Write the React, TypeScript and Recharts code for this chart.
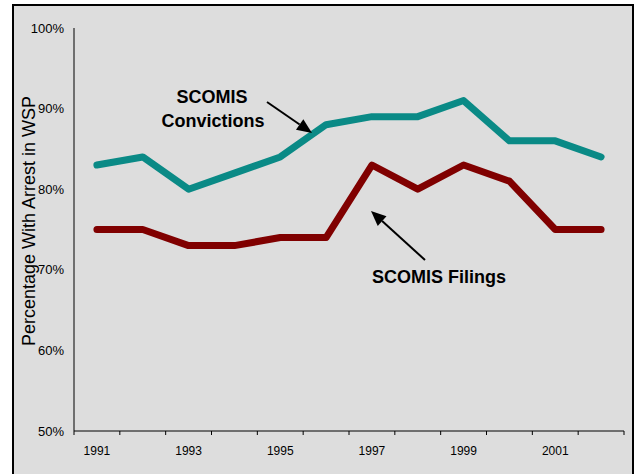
import { LineChart, Line, XAxis, YAxis } from 'recharts';

const years = [1991, 1992, 1993, 1994, 1995, 1996, 1997, 1998, 1999, 2000, 2001, 2002];
const convictions = [83, 84, 80, 82, 84, 88, 89, 89, 91, 86, 86, 84];
const filings = [75, 75, 73, 73, 74, 74, 83, 80, 83, 81, 75, 75];
const yearLabels = [1991, 1993, 1995, 1997, 1999, 2001];
const yTicks = [50, 60, 70, 80, 90, 100];

const data = years.map((year, i) => ({
  year,
  convictions: convictions[i],
  filings: filings[i]
}));

// tick marks sit between the years, labels on every other year
const boundaries = [...years.map((y) => y - 0.5), years[years.length - 1] + 0.5];
const xTicks = [...boundaries, ...yearLabels].sort((a, b) => a - b);

const font = 'Arial, "Liberation Sans", sans-serif';

const YearTick = (props: any) => {
  const { x, y, payload } = props;
  const v = payload.value;
  if (v % 1 !== 0) {
    return <line x1={x} y1={y} x2={x} y2={y + 4} stroke="#000" strokeWidth={1} />;
  }
  return (
    <text x={x} y={y + 24} textAnchor="middle" fontSize={12} fontFamily={font} fill="#000">
      {v}
    </text>
  );
};

const Arrow = ({ x1, y1, x2, y2 }: { x1: number; y1: number; x2: number; y2: number }) => {
  const a = Math.atan2(y2 - y1, x2 - x1);
  const len = 15;
  const half = 6.5;
  const bx = x2 - len * Math.cos(a);
  const by = y2 - len * Math.sin(a);
  const px = -Math.sin(a) * half;
  const py = Math.cos(a) * half;
  return (
    <g>
      <line x1={x1} y1={y1} x2={bx} y2={by} stroke="#000" strokeWidth={2} />
      <polygon points={`${x2},${y2} ${bx + px},${by + py} ${bx - px},${by - py}`} fill="#000" />
    </g>
  );
};

export default function App() {
  return (
    <div style={{ position: 'absolute', left: 0, top: 0, width: 636, height: 474, overflow: 'hidden', background: '#fff' }}>
      <div
        style={{
          position: 'absolute',
          left: 12,
          top: 4,
          width: 622,
          height: 490,
          boxSizing: 'border-box',
          border: '2px solid #000',
          background: '#DDDDDD'
        }}
      />
      <div style={{ position: 'absolute', left: 0, top: 0 }}>
        <LineChart width={636} height={474} data={data} margin={{ top: 28, right: 12, bottom: 13, left: 0 }}>
          <XAxis
            dataKey="year"
            type="number"
            domain={[1990.5, 2002.5]}
            ticks={xTicks}
            interval={0}
            tickLine={false}
            tickSize={0}
            tickMargin={0}
            height={30}
            axisLine={{ stroke: '#000', strokeWidth: 1 }}
            tick={<YearTick />}
          />
          <YAxis
            domain={[50, 100]}
            ticks={yTicks}
            interval={0}
            width={74}
            tickLine={false}
            tickSize={0}
            tickMargin={10}
            axisLine={{ stroke: '#000', strokeWidth: 1 }}
            tickFormatter={(v) => `${v}%`}
            tick={{ fill: '#000', fontSize: 13, fontFamily: font }}
          />
          <Line
            dataKey="convictions"
            stroke="#0A8A86"
            strokeWidth={7}
            strokeLinecap="round"
            strokeLinejoin="round"
            dot={false}
            activeDot={false}
            isAnimationActive={false}
          />
          <Line
            dataKey="filings"
            stroke="#800000"
            strokeWidth={7}
            strokeLinecap="round"
            strokeLinejoin="round"
            dot={false}
            activeDot={false}
            isAnimationActive={false}
          />
        </LineChart>
      </div>
      <svg width={636} height={474} style={{ position: 'absolute', left: 0, top: 0, pointerEvents: 'none' }}>
        <text
          transform="translate(35 221) rotate(-90)"
          textAnchor="middle"
          fontSize={18}
          fontFamily={font}
          fill="#000"
        >
          Percentage With Arrest in WSP
        </text>
        <g fontFamily={font} fontWeight="bold" fontSize={18} fill="#000" textAnchor="middle">
          <text x={212} y={103}>SCOMIS</text>
          <text x={213} y={127}>Convictions</text>
          <text x={439} y={283}>SCOMIS Filings</text>
        </g>
        <Arrow x1={267} y1={102} x2={312} y2={133} />
        <Arrow x1={425} y1={260} x2={371} y2={211} />
      </svg>
    </div>
  );
}
